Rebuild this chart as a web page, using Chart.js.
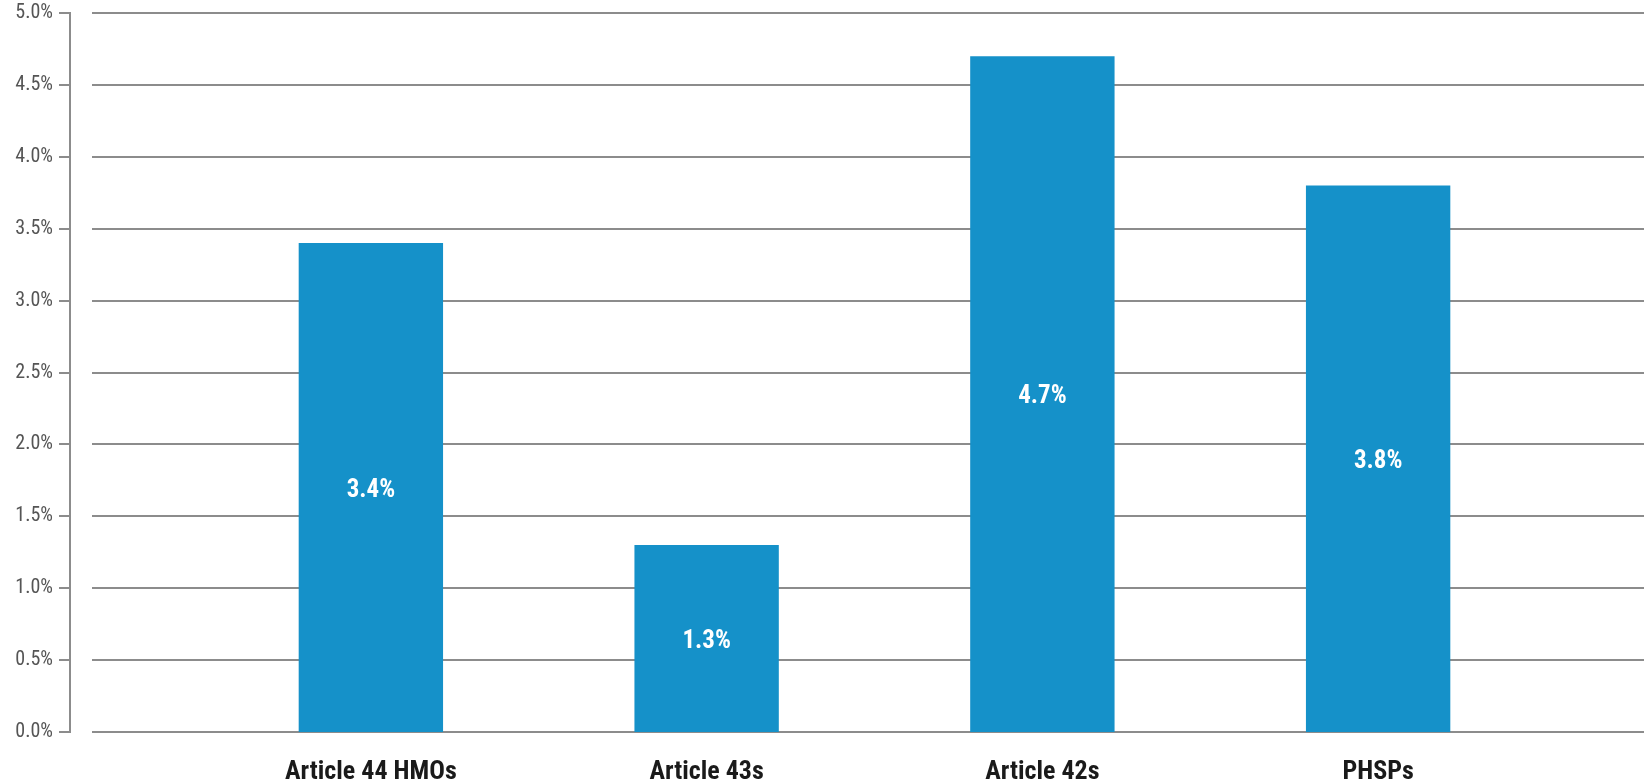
<!DOCTYPE html>
<html>
<head>
<meta charset="utf-8">
<script src="https://cdn.jsdelivr.net/npm/chart.js@4/dist/chart.umd.min.js"></script>
<style>
  body { margin: 0; background: #fff; }
  canvas { display: block; }
</style>
</head>
<body>
<canvas id="chart" width="1644" height="781"></canvas>
<script>
const categories = ['Article 44 HMOs', 'Article 43s', 'Article 42s', 'PHSPs'];
const values = [3.4, 1.3, 4.7, 3.8];
const yTicks = [0, 0.5, 1, 1.5, 2, 2.5, 3, 3.5, 4, 4.5, 5];

const FONT = "'Roboto Condensed', 'Roboto', sans-serif";

// gridlines start right of the axis line, axis line has its own tick marks
const gridAndAxis = {
    id: 'gridAndAxis',
    beforeDatasetsDraw(chart) {
        const c = chart.ctx;
        const y = chart.scales.y;
        c.save();
        c.strokeStyle = '#8c8c8c';
        c.lineWidth = 2;
        yTicks.forEach((v) => {
            const py = Math.round(y.getPixelForValue(v));
            c.beginPath();
            c.moveTo(92, py);
            c.lineTo(chart.width, py);
            c.stroke();
            c.beginPath();
            c.moveTo(59, py);
            c.lineTo(71, py);
            c.stroke();
        });
        c.beginPath();
        c.moveTo(70, Math.round(y.getPixelForValue(5)) - 1);
        c.lineTo(70, Math.round(y.getPixelForValue(0)) + 1);
        c.stroke();
        c.restore();
    }
};

const barLabels = {
    id: 'barLabels',
    afterDatasetsDraw(chart) {
        const c = chart.ctx;
        const meta = chart.getDatasetMeta(0);
        c.save();
        c.fillStyle = '#ffffff';
        c.font = 'bold 25px ' + FONT;
        c.textAlign = 'center';
        c.textBaseline = 'middle';
        meta.data.forEach((bar, i) => {
            const mid = (bar.y + bar.base) / 2;
            c.fillText(values[i].toFixed(1) + '%', bar.x, mid + 3);
        });
        c.restore();
    }
};

let ctx = document.getElementById('chart').getContext('2d');
window.bars = new Chart(ctx, {
    type: 'bar',
    data: {
        labels: categories,
        datasets: [{
            data: values,
            backgroundColor: '#1591c9',
            barPercentage: 0.43,
            categoryPercentage: 1
        }]
    },
    options: {
        responsive: false,
        animation: false,
        layout: { padding: { top: 13, right: 98, left: 0, bottom: 0 } },
        scales: {
            x: {
                grid: { display: false },
                border: { display: false },
                ticks: {
                    color: '#1a1a1a',
                    font: { family: FONT, size: 26, weight: 'bold' },
                    padding: 17,
                    maxRotation: 0
                },
                afterFit: (s) => { s.height = 49; }
            },
            y: {
                min: 0,
                max: 5,
                grid: { display: false },
                border: { display: false },
                ticks: {
                    stepSize: 0.5,
                    color: '#555555',
                    font: { family: FONT, size: 20 },
                    padding: 142,
                    callback: (v) => v.toFixed(1) + '%'
                },
                afterFit: (s) => {
                    s.width = 203;
                    s.paddingTop = 0;
                    s.paddingBottom = 0;
                }
            }
        },
        plugins: {
            legend: { display: false },
            tooltip: { enabled: false }
        }
    },
    plugins: [gridAndAxis, barLabels]
});
</script>
</body>
</html>
